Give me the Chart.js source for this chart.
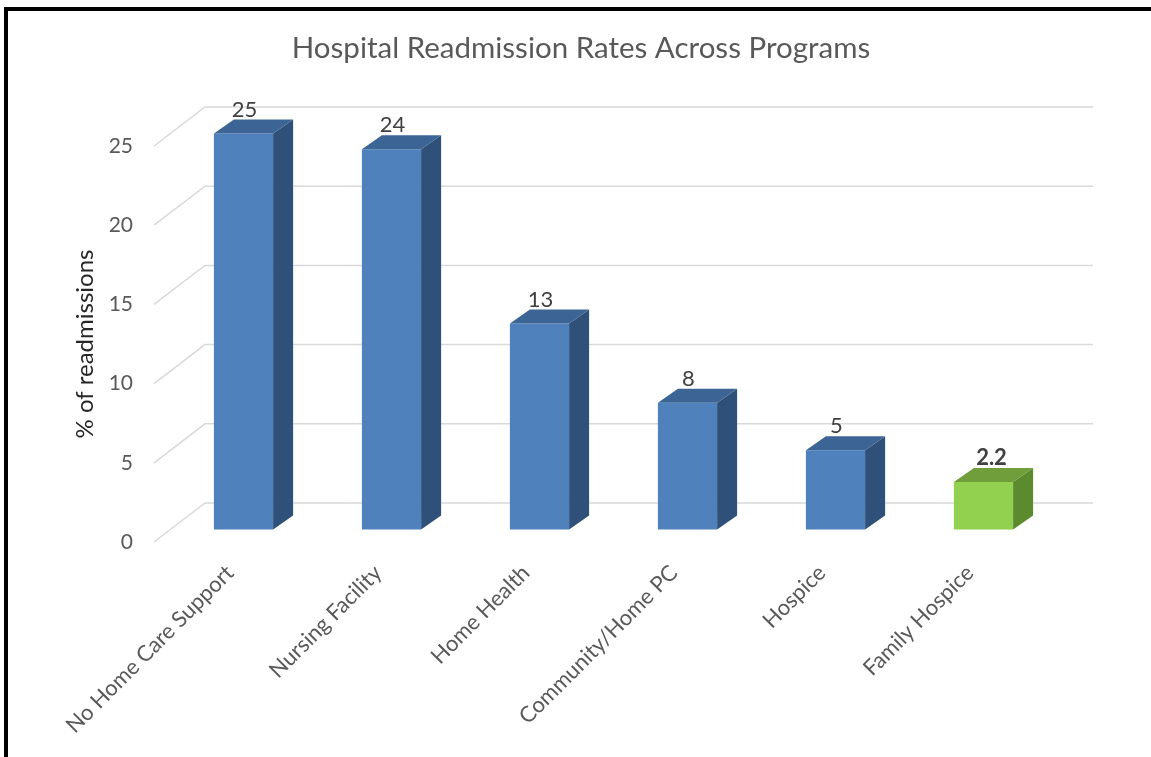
<!DOCTYPE html>
<html>
<head>
<meta charset="utf-8">
<script src="https://cdn.jsdelivr.net/npm/chart.js@4.4.1/dist/chart.umd.min.js"></script>
<style>
  html, body { margin: 0; padding: 0; background: #fff; }
  #wrap { position: relative; width: 1151px; height: 757px; overflow: hidden; }
  #chart { position: absolute; left: 0; top: 0; }
  /* bord noir du cadre (gauche + haut) */
  #frame { position: absolute; left: 4px; top: 7px; right: -10px; bottom: -10px; border-left: 4px solid #000; border-top: 4px solid #000; pointer-events: none; }
</style>
</head>
<body>
<div id="wrap">
  <canvas id="chart" width="1151" height="757"></canvas>
  <div id="frame"></div>
</div>
<script>
const chartTitle = 'Hospital Readmission Rates Across Programs';
const yAxisTitle = '% of readmissions';
const categories = ['No Home Care Support', 'Nursing Facility', 'Home Health', 'Community/Home PC', 'Hospice', 'Family Hospice'];
const readmissions = [25, 24, 13, 8, 5, 3];
const valueLabels = ['25', '24', '13', '8', '5', '2.2'];
const yTicks = [0, 5, 10, 15, 20, 25];

// couleurs des faces : avant / dessus / côté
const frontColors = ['#4F81BD', '#4F81BD', '#4F81BD', '#4F81BD', '#4F81BD', '#92D050'];
const topColors = ['#3C6494', '#3C6494', '#3C6494', '#3C6494', '#3C6494', '#6F9E3B'];
const sideColors = ['#2F5078', '#2F5078', '#2F5078', '#2F5078', '#2F5078', '#5C8A2E'];

const FONT = 'Lato, "Open Sans", sans-serif';

// décalages de la pseudo-3D
const D = { barX: 15.5, barY: -12.5, wallX: 51, wallY: -39, faceX: 20, faceY: -14 };

const fake3d = {
  id: 'fake3d',
  beforeDraw(chart) {
    const { ctx } = chart;
    ctx.save();
    ctx.fillStyle = '#595959';
    ctx.font = '29.5px ' + FONT;
    ctx.textAlign = 'center';
    ctx.textBaseline = 'middle';
    ctx.fillText(chartTitle, 581, 48);
    ctx.restore();
  },
  beforeDatasetsDraw(chart) {
    const { ctx, chartArea: a } = chart;
    const y = chart.scales.y;
    // grille sur le mur du fond + mur gauche
    ctx.save();
    ctx.strokeStyle = '#D9D9D9';
    ctx.lineWidth = 1.5;
    yTicks.forEach(v => {
      const py = y.getPixelForValue(v);
      ctx.beginPath();
      ctx.moveTo(a.left, py);
      ctx.lineTo(a.left + D.wallX, py + D.wallY);
      ctx.lineTo(a.right + D.wallX, py + D.wallY);
      ctx.stroke();
    });
    ctx.restore();
    // les barres sont un peu en retrait du plan avant
    ctx.save();
    ctx.translate(D.barX, D.barY);
  },
  afterDatasetsDraw(chart) {
    const { ctx } = chart;
    const meta = chart.getDatasetMeta(0);
    meta.data.forEach((bar, i) => {
      const { x, y, base, width } = bar.getProps(['x', 'y', 'base', 'width'], true);
      const l = x - width / 2;
      const r = x + width / 2;
      // face de côté
      ctx.fillStyle = sideColors[i];
      ctx.beginPath();
      ctx.moveTo(r, y);
      ctx.lineTo(r + D.faceX, y + D.faceY);
      ctx.lineTo(r + D.faceX, base + D.faceY);
      ctx.lineTo(r, base);
      ctx.closePath();
      ctx.fill();
      // face du dessus
      ctx.fillStyle = topColors[i];
      ctx.beginPath();
      ctx.moveTo(l, y);
      ctx.lineTo(l + D.faceX, y + D.faceY);
      ctx.lineTo(r + D.faceX, y + D.faceY);
      ctx.lineTo(r, y);
      ctx.closePath();
      ctx.fill();
      // étiquette de valeur
      const bold = i === valueLabels.length - 1;
      ctx.fillStyle = '#404040';
      ctx.font = (bold ? 'bold ' : '') + '22px ' + FONT;
      ctx.textAlign = 'center';
      ctx.textBaseline = 'alphabetic';
      ctx.fillText(valueLabels[i], x + (bold ? 8 : 1), y + D.faceY - 3);
    });
    ctx.restore();
  }
};

new Chart(document.getElementById('chart').getContext('2d'), {
  type: 'bar',
  data: {
    labels: categories,
    datasets: [{
      data: readmissions,
      backgroundColor: frontColors,
      borderWidth: 0,
      barPercentage: 0.4,
      categoryPercentage: 1,
      clip: false
    }]
  },
  options: {
    responsive: false,
    animation: false,
    events: [],
    layout: { padding: { left: 10, right: 109, top: 146, bottom: 10 } },
    plugins: {
      legend: { display: false },
      tooltip: { enabled: false },
      title: { display: false }
    },
    scales: {
      x: {
        grid: { display: false, drawTicks: false },
        border: { display: false },
        ticks: {
          minRotation: 45,
          maxRotation: 45,
          padding: 18,
          labelOffset: 2,
          color: '#595959',
          font: { family: FONT, size: 22 }
        },
        afterFit: (scale) => { scale.height = 205; }
      },
      y: {
        min: 0,
        max: 25,
        afterBuildTicks: (scale) => { scale.ticks = yTicks.map(v => ({ value: v })); },
        grid: { display: false, drawTicks: false },
        border: { display: false },
        ticks: {
          padding: 21,
          color: '#595959',
          font: { family: FONT, size: 21 }
        },
        title: {
          display: true,
          text: yAxisTitle,
          color: '#262626',
          padding: { top: 61, bottom: 0 },
          font: { family: FONT, size: 24 }
        },
        afterFit: (scale) => { scale.width = 144; }
      }
    }
  },
  plugins: [fake3d]
});
</script>
</body>
</html>
